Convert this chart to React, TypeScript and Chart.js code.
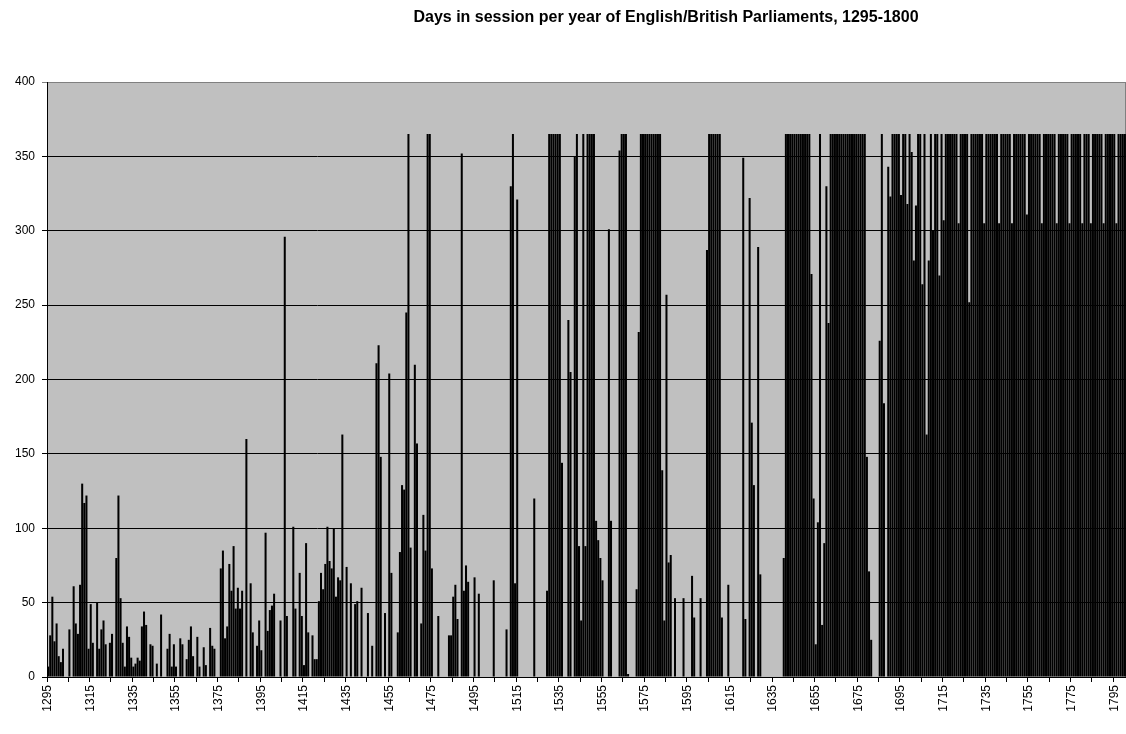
import React, { useEffect, useRef } from "react";
import { Chart, registerables } from "chart.js";

Chart.register(...registerables);

const TITLE = "Days in session per year of English/British Parliaments, 1295-1800";
const FIRST_YEAR = 1295;

const days1295to1344 = [
  7, 28, 54, 24, 36, 14, 10, 19, 0, 0,
  32, 0, 61, 36, 29, 62, 130, 117, 122, 19,
  49, 23, 0, 50, 19, 32, 38, 22, 0, 23,
  29, 0, 80, 122, 53, 23, 7, 34, 27, 13,
  7, 9, 13, 11, 34, 44, 35, 0, 22, 21,
];
const days1345to1394 = [
  0, 9, 0, 42, 0, 0, 19, 29, 7, 22,
  7, 0, 26, 22, 0, 12, 25, 34, 14, 0,
  27, 7, 0, 20, 8, 0, 33, 21, 19, 0,
  0, 73, 85, 26, 34, 76, 58, 88, 46, 60,
  46, 58, 0, 160, 0, 63, 30, 0, 21, 38,
];
const days1395to1444 = [
  18, 0, 97, 31, 45, 48, 56, 0, 0, 38,
  0, 296, 41, 0, 0, 101, 46, 0, 70, 41,
  8, 90, 30, 0, 28, 12, 12, 51, 70, 59,
  76, 101, 78, 73, 100, 54, 67, 65, 163, 0,
  74, 0, 63, 0, 49, 51, 0, 60, 0, 0,
];
const days1445to1494 = [
  43, 0, 21, 0, 211, 223, 148, 0, 43, 0,
  204, 70, 0, 0, 30, 84, 129, 126, 245, 365,
  87, 0, 210, 157, 0, 36, 109, 85, 365, 365,
  73, 0, 0, 41, 0, 0, 0, 0, 28, 28,
  54, 62, 39, 0, 352, 58, 75, 64, 0, 0,
];
const days1495to1544 = [
  67, 0, 56, 0, 0, 0, 0, 0, 0, 65,
  0, 0, 0, 0, 0, 32, 0, 330, 365, 63,
  321, 0, 0, 0, 0, 0, 0, 0, 120, 0,
  0, 0, 0, 0, 58, 365, 365, 365, 365, 365,
  365, 144, 0, 0, 240, 205, 0, 350, 365, 88,
];
const days1545to1594 = [
  38, 365, 88, 365, 365, 365, 365, 105, 92, 80,
  65, 0, 0, 301, 105, 0, 0, 0, 354, 365,
  365, 365, 2, 0, 0, 0, 59, 232, 365, 365,
  365, 365, 365, 365, 365, 365, 365, 365, 139, 38,
  257, 77, 82, 0, 53, 0, 0, 0, 53, 0,
];
const days1595to1644 = [
  0, 0, 68, 40, 0, 0, 53, 0, 0, 287,
  365, 365, 365, 365, 365, 365, 40, 0, 0, 62,
  0, 0, 0, 0, 0, 0, 349, 39, 0, 322,
  171, 129, 0, 289, 69, 0, 0, 0, 0, 0,
  0, 0, 0, 0, 0, 80, 365, 365, 365, 365,
];
const days1645to1694 = [
  365, 365, 365, 365, 365, 365, 365, 365, 271, 120,
  22, 104, 365, 35, 90, 330, 238, 365, 365, 365,
  365, 365, 365, 365, 365, 365, 365, 365, 365, 365,
  365, 365, 365, 365, 148, 71, 25, 0, 0, 0,
  226, 365, 184, 0, 343, 323, 365, 365, 365, 365,
];
const days1695to1744 = [
  324, 365, 365, 318, 365, 353, 280, 317, 365, 365,
  264, 365, 163, 280, 365, 300, 365, 365, 270, 365,
  307, 365, 365, 365, 365, 365, 365, 305, 365, 365,
  365, 365, 252, 365, 365, 365, 365, 365, 365, 305,
  365, 365, 365, 365, 365, 365, 305, 365, 365, 365,
];
const days1745to1800 = [
  365, 365, 305, 365, 365, 365, 365, 365, 365, 311,
  365, 365, 365, 365, 365, 365, 305, 365, 365, 365,
  365, 365, 365, 305, 365, 365, 365, 365, 365, 305,
  365, 365, 365, 365, 365, 305, 365, 365, 365, 305,
  365, 365, 365, 365, 365, 305, 365, 365, 365, 365,
  365, 305, 365, 365, 365, 365,
];

const DAYS = [
  ...days1295to1344,
  ...days1345to1394,
  ...days1395to1444,
  ...days1445to1494,
  ...days1495to1544,
  ...days1545to1594,
  ...days1595to1644,
  ...days1645to1694,
  ...days1695to1744,
  ...days1745to1800,
];
const YEARS = DAYS.map((_, i) => String(FIRST_YEAR + i));

const LABEL_EVERY = 20;
const TICK_EVERY = 10;
const Y_MAX = 400;
const Y_STEP = 50;

const FONT = '"Liberation Sans", Arial, Helvetica, sans-serif';

export default function App() {
  const ref = useRef<HTMLCanvasElement>(null);

  useEffect(() => {
    const canvas = ref.current;
    if (!canvas) return;

    const plotDecor = {
      id: "plotDecor",
      beforeDraw(chart: any) {
        const { ctx, chartArea: a } = chart;
        ctx.save();
        ctx.fillStyle = "#C0C0C0";
        ctx.fillRect(a.left, a.top, a.right - a.left, a.bottom - a.top);
        ctx.strokeStyle = "#808080";
        ctx.lineWidth = 1;
        ctx.strokeRect(a.left + 0.5, a.top + 0.5, a.right - a.left - 1, a.bottom - a.top);
        ctx.restore();
      },
      afterDraw(chart: any) {
        const { ctx } = chart;
        ctx.save();
        ctx.fillStyle = "#000";
        ctx.font = `bold 16px ${FONT}`;
        ctx.textAlign = "center";
        ctx.textBaseline = "middle";
        ctx.fillText(TITLE, 666, 18);
        ctx.restore();
      },
    };

    const chart = new Chart(canvas, {
      type: "bar",
      data: {
        labels: YEARS,
        datasets: [
          {
            data: DAYS,
            backgroundColor: "#000",
            borderWidth: 0,
            barPercentage: 0.95,
            categoryPercentage: 1,
          },
        ],
      },
      options: {
        animation: false,
        responsive: true,
        maintainAspectRatio: false,
        layout: { padding: { top: 82, left: 0, right: 0, bottom: 0 } },
        plugins: {
          legend: { display: false },
          tooltip: { enabled: false },
          title: { display: false },
        },
        scales: {
          x: {
            offset: true,
            grid: {
              offset: true,
              drawOnChartArea: false,
              drawTicks: true,
              tickLength: 5,
              color: (c: any) => (typeof c.index === "number" && c.index % TICK_EVERY === 0 ? "#000" : "rgba(0,0,0,0)"),
            },
            border: { display: true, color: "#000", width: 1 },
            ticks: {
              autoSkip: false,
              maxRotation: 90,
              minRotation: 90,
              padding: 3,
              color: "#000",
              font: { family: FONT, size: 12 },
              callback: (_v: any, i: number) => (i % LABEL_EVERY === 0 ? YEARS[i] : ""),
            },
            afterFit: (s: any) => {
              s.height = 57;
              s.paddingLeft = 0;
              s.paddingRight = 0;
            },
          },
          y: {
            min: 0,
            max: Y_MAX,
            ticks: {
              stepSize: Y_STEP,
              padding: 7,
              color: "#000",
              font: { family: FONT, size: 12 },
            },
            grid: {
              color: (c: any) => (c.tick && c.tick.value === Y_MAX ? "#808080" : "#000"),
              tickLength: 5,
              drawTicks: true,
            },
            border: { display: true, color: "#000", width: 1 },
            afterFit: (s: any) => {
              s.width = 47;
              s.paddingTop = 0;
              s.paddingBottom = 0;
            },
          },
        },
      },
      plugins: [plotDecor],
    });

    return () => chart.destroy();
  }, []);

  return (
    <div style={{ position: "fixed", left: 0, top: 0, width: 1126, height: 734, background: "#fff" }}>
      <canvas ref={ref} />
    </div>
  );
}
